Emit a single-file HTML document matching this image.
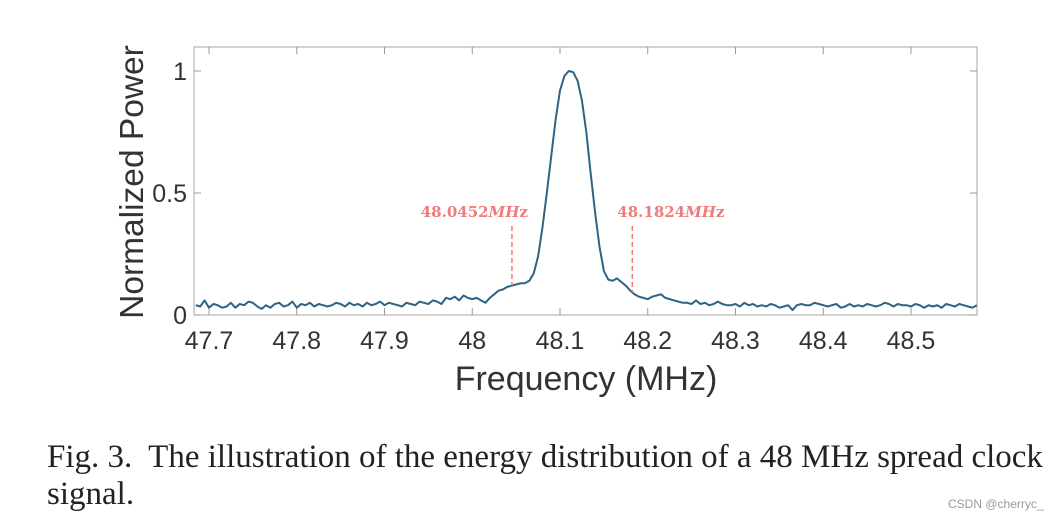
<!DOCTYPE html>
<html><head><meta charset="utf-8"><style>
body{margin:0;background:#fff;width:1064px;height:522px;overflow:hidden;position:relative;font-family:"Liberation Sans",sans-serif}
.cap{position:absolute;left:47px;font-family:"Liberation Serif",serif;font-size:33px;color:#222;white-space:nowrap}
</style></head><body>
<svg width="1064" height="522" style="position:absolute;left:0;top:0">
<g id="axes"></g><g id="plot"></g>
</svg>
<div class="cap" style="top:439px">Fig. 3.&nbsp; The illustration of the energy distribution of a 48 MHz spread clock</div>
<div class="cap" style="top:476px">signal.</div>
<div style="position:absolute;left:948px;top:497px;font-size:12px;color:#999">CSDN @cherryc_</div>
<script>
const xStart=47.685, xStep=0.005;
const power=[0.04,0.035,0.06,0.03,0.045,0.04,0.03,0.035,0.05,0.03,
0.045,0.04,0.055,0.05,0.035,0.025,0.04,0.03,0.045,0.05,
0.035,0.04,0.055,0.03,0.045,0.04,0.05,0.035,0.045,0.04,
0.035,0.04,0.05,0.045,0.035,0.05,0.04,0.045,0.035,0.05,
0.04,0.045,0.055,0.04,0.05,0.045,0.04,0.035,0.05,0.045,
0.04,0.055,0.05,0.045,0.06,0.055,0.045,0.07,0.065,0.075,
0.06,0.08,0.07,0.065,0.07,0.06,0.05,0.07,0.085,0.1,0.105,0.115,
0.12,0.125,0.13,0.13,0.14,0.17,0.24,0.36,0.5,0.65,
0.8,0.92,0.98,1.0,0.995,0.96,0.88,0.75,0.58,0.42,
0.28,0.18,0.145,0.14,0.15,0.135,0.12,0.1,0.085,0.075,
0.07,0.065,0.075,0.08,0.085,0.07,0.065,0.06,0.055,0.05,
0.05,0.045,0.06,0.045,0.05,0.04,0.045,0.055,0.045,0.04,
0.04,0.045,0.035,0.05,0.04,0.045,0.035,0.04,0.035,0.045,
0.04,0.03,0.035,0.04,0.02,0.04,0.045,0.04,0.04,0.05,
0.045,0.04,0.035,0.04,0.045,0.03,0.035,0.045,0.035,0.04,
0.035,0.045,0.04,0.035,0.04,0.05,0.045,0.035,0.045,0.04,
0.04,0.035,0.045,0.04,0.03,0.04,0.035,0.04,0.03,0.045,
0.04,0.035,0.045,0.04,0.035,0.03,0.04,0.035,0.045,0.04];
const xTicks=[47.7,47.8,47.9,48,48.1,48.2,48.3,48.4,48.5];
const xTickLabels=["47.7","47.8","47.9","48","48.1","48.2","48.3","48.4","48.5"];
const yTicks=[0,0.5,1];
const yTickLabels=["0","0.5","1"];
const markers=[48.0452,48.1824];
const markerLabels=["48.0452","48.1824"];
const L=194,R=977,T=47,B=315;
const X=v=>209+(v-47.7)*877.5;
const Y=v=>315-v*244;
const NS="http://www.w3.org/2000/svg";
function mk(tag,attrs,parent,txt){const e=document.createElementNS(NS,tag);for(const k in attrs)e.setAttribute(k,attrs[k]);if(txt!==undefined)e.textContent=txt;parent.appendChild(e);return e;}
const ax=document.getElementById('axes'),pl=document.getElementById('plot');
let box=mk('rect',{x:L,y:T,width:R-L,height:B-T,fill:'none',stroke:'#a6a6a6','stroke-width':1},ax);

xTicks.forEach((t,i)=>{const x=X(t);
 mk('line',{x1:x,x2:x,y1:B,y2:B-7,stroke:'#999'},ax);mk('line',{x1:x,x2:x,y1:T,y2:T+7,stroke:'#999'},ax);
 const tx=mk('text',{x:x,y:349,'text-anchor':'middle','font-size':25,fill:'#333'},ax,xTickLabels[i]);
 });
yTicks.forEach((t,i)=>{const y=Y(t);
 mk('line',{x1:L,x2:L+7,y1:y,y2:y,stroke:'#999'},ax);mk('line',{x1:R,x2:R-7,y1:y,y2:y,stroke:'#999'},ax);
 const tx=mk('text',{x:187,y:y+9,'text-anchor':'end','font-size':25,fill:'#333'},ax,yTickLabels[i]);
 });
let xt=mk('text',{x:586,y:390,'text-anchor':'middle','font-size':34,fill:'#333'},ax,'Frequency (MHz)');

let yt=mk('text',{x:0,y:0,'text-anchor':'middle','font-size':33.5,fill:'#333',transform:'translate(143,182) rotate(-90)'},ax,'Normalized Power');

const pts=power.map((v,i)=>[X(xStart+i*xStep),Y(v)]).filter(p=>p[0]>=L&&p[0]<=R);
let line=mk('polyline',{points:pts.map(p=>p[0].toFixed(1)+','+p[1].toFixed(1)).join(' '),fill:'none',stroke:'#2e6386','stroke-width':2,'stroke-linejoin':'round'},pl);

function interp(f){const i=(f-xStart)/xStep,a=Math.floor(i),t=i-a;return power[a]*(1-t)+power[a+1]*t;}
markers.forEach((m,i)=>{const x=X(m);
 const d=mk('line',{x1:x,x2:x,y1:226,y2:Y(interp(m)),stroke:'#ef7b7b','stroke-width':1.5,'stroke-dasharray':'5,3'},pl);
 
 const lx = i===0 ? x+16 : x-15;
 const t=mk('text',{x:lx,y:217,'text-anchor':i===0?'end':'start','font-size':15,'font-weight':'bold','font-family':'"DejaVu Serif",serif',fill:'#ef7b7b'},pl);
 mk('tspan',{},t,markerLabels[i]);mk('tspan',{'font-style':'italic'},t,'MH');mk('tspan',{},t,'z');
 });
</script>
</body></html>
